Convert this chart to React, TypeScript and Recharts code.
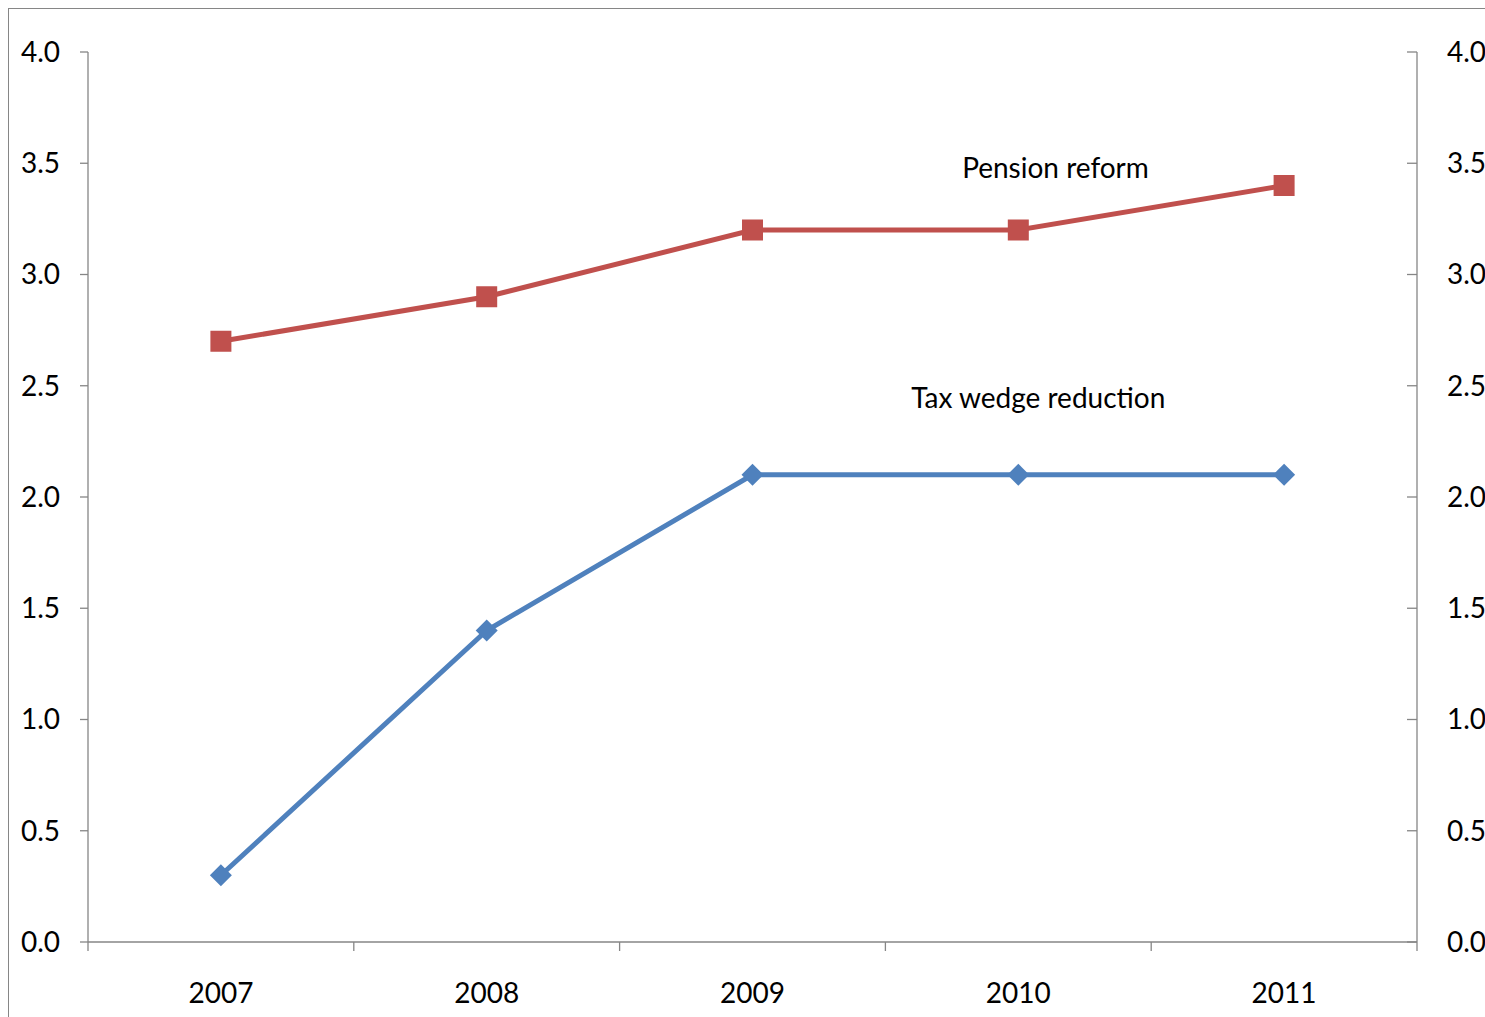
import React from 'react';
import { LineChart, Line, XAxis, YAxis, ReferenceDot } from 'recharts';

const years = ['2007', '2008', '2009', '2010', '2011'];
const pensionReform = [2.7, 2.9, 3.2, 3.2, 3.4];
const taxWedgeReduction = [0.3, 1.4, 2.1, 2.1, 2.1];
const yTicks = [0, 0.5, 1, 1.5, 2, 2.5, 3, 3.5, 4];
const xTicks = [-0.5, 0, 0.5, 1, 1.5, 2, 2.5, 3, 3.5, 4, 4.5];

const data = years.map((y, i) => ({
  idx: i,
  year: y,
  pension: pensionReform[i],
  tax: taxWedgeReduction[i],
}));

const AXIS = '#868686';
const RED = '#C0504D';
const BLUE = '#4F81BD';
const FONT = 'Lato, "Open Sans", sans-serif';
const FS = 28;

const SquareDot = (props: any) => {
  const { cx, cy } = props;
  if (cx == null || cy == null) return null;
  const s = 21;
  return <rect x={cx - s / 2} y={cy - s / 2} width={s} height={s} fill={RED} />;
};

const DiamondDot = (props: any) => {
  const { cx, cy } = props;
  if (cx == null || cy == null) return null;
  const r = 11;
  return (
    <polygon
      points={`${cx},${cy - r} ${cx + r},${cy} ${cx},${cy + r} ${cx - r},${cy}`}
      fill={BLUE}
    />
  );
};

const X_MARGIN = 41;
const XTick = (props: any) => {
  const { x, y, payload } = props;
  const v: number = payload.value;
  if (!Number.isInteger(v)) {
    return <line x1={x} x2={x} y1={y - X_MARGIN} y2={y - X_MARGIN + 9} stroke={AXIS} strokeWidth={1.3} />;
  }
  return (
    <text x={x} y={y} dy="0.71em" textAnchor="middle" fontSize={FS} fill="#000" fontFamily={FONT}>
      {years[v]}
    </text>
  );
};

const R_MARGIN = 30;
const RightTick = (props: any) => {
  const { x, y, payload } = props;
  const ax = x - R_MARGIN;
  return (
    <g>
      <line x1={ax - 10} x2={ax} y1={y} y2={y} stroke={AXIS} strokeWidth={1.3} />
      <text x={x} y={y} dy="0.355em" textAnchor="start" fontSize={FS} fill="#000" fontFamily={FONT}>
        {Number(payload.value).toFixed(1)}
      </text>
    </g>
  );
};

export default function App() {
  return (
    <div
      style={{
        position: 'fixed',
        left: 8,
        top: 8,
        width: 1477,
        height: 1009,
        overflow: 'hidden',
        boxSizing: 'border-box',
        borderLeft: `1px solid ${AXIS}`,
        borderTop: `1px solid ${AXIS}`,
        background: '#fff',
      }}
    >
      <LineChart
        width={1516}
        height={1008}
        data={data}
        margin={{ top: 43, right: 0, bottom: 0, left: 0 }}
        style={{ fontFamily: FONT }}
      >
        <XAxis
          xAxisId="labels"
          type="number"
          dataKey="idx"
          domain={[-0.5, 4.5]}
          ticks={xTicks}
          interval={0}
          height={75}
          axisLine={{ stroke: AXIS, strokeWidth: 1.3 }}
          tickLine={false}
          tickSize={0}
          tickMargin={X_MARGIN}
          tick={<XTick />}
          allowDataOverflow
        />
        <YAxis
          yAxisId="left"
          orientation="left"
          width={79}
          domain={[0, 4]}
          ticks={yTicks}
          interval={0}
          axisLine={{ stroke: AXIS, strokeWidth: 1.3 }}
          tickLine={{ stroke: AXIS, strokeWidth: 1.3 }}
          tickSize={8}
          tickMargin={20}
          tickFormatter={(v: number) => v.toFixed(1)}
          tick={{ fontSize: FS, fill: '#000', fontFamily: FONT }}
          allowDataOverflow
        />
        <YAxis
          yAxisId="right"
          orientation="right"
          width={108}
          domain={[0, 4]}
          ticks={yTicks}
          interval={0}
          axisLine={{ stroke: AXIS, strokeWidth: 1.3 }}
          tickLine={false}
          tickSize={0}
          tickMargin={R_MARGIN}
          tick={<RightTick />}
          allowDataOverflow
        />
        <Line
          xAxisId="labels"
          yAxisId="left"
          type="linear"
          dataKey="pension"
          stroke={RED}
          strokeWidth={5}
          dot={<SquareDot />}
          activeDot={false}
          isAnimationActive={false}
        />
        <Line
          xAxisId="labels"
          yAxisId="left"
          type="linear"
          dataKey="tax"
          stroke={BLUE}
          strokeWidth={5}
          dot={<DiamondDot />}
          activeDot={false}
          isAnimationActive={false}
        />
        <ReferenceDot
          xAxisId="labels"
          yAxisId="left"
          x={3.14}
          y={3.48}
          r={0}
          fill="none"
          stroke="none"
          label={{ value: 'Pension reform', position: 'center', fontSize: FS, fill: '#000', fontFamily: FONT }}
        />
        <ReferenceDot
          xAxisId="labels"
          yAxisId="left"
          x={3.075}
          y={2.445}
          r={0}
          fill="none"
          stroke="none"
          label={{ value: 'Tax wedge reduction', position: 'center', fontSize: FS, fill: '#000', fontFamily: FONT }}
        />
      </LineChart>
    </div>
  );
}
